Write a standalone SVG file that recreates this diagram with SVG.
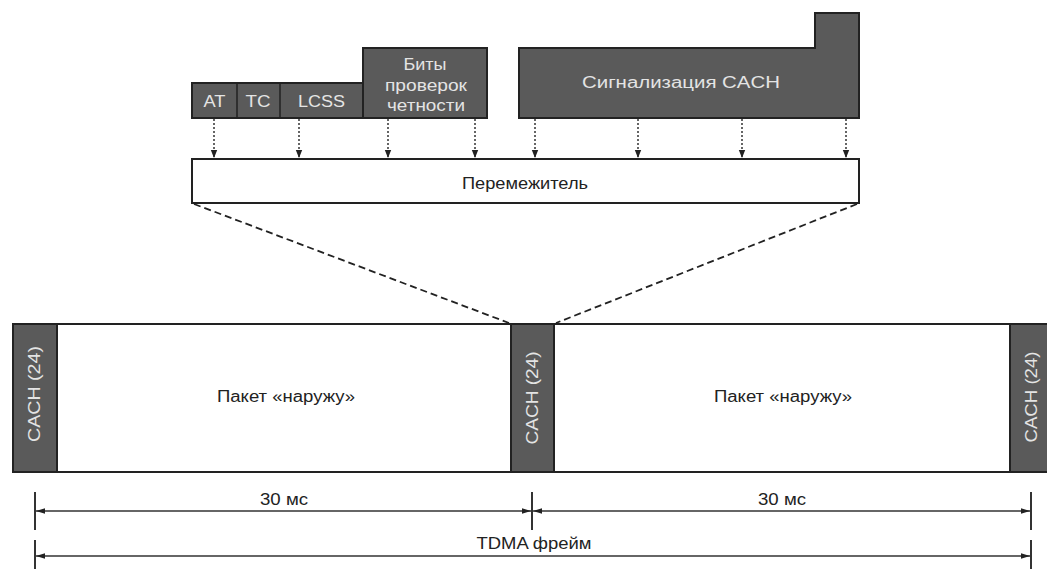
<svg xmlns="http://www.w3.org/2000/svg" width="1047" height="569" viewBox="0 0 1047 569">
<defs>
<style>
.dark{fill:#5a5a5a;stroke:#222;stroke-width:2}
.light{fill:#fff;stroke:#222;stroke-width:2}
.lt{font-family:"Liberation Sans",Arial,sans-serif;font-size:16px;fill:#e4e4e4;text-anchor:middle}
.dt{font-family:"Liberation Sans",Arial,sans-serif;font-size:16px;fill:#222;text-anchor:middle}
.dot{stroke:#333;stroke-width:1.5;stroke-dasharray:2 2;fill:none}
.dash{stroke:#222;stroke-width:1.8;stroke-dasharray:7 4;fill:none}
.dim{stroke:#333;stroke-width:1.5;fill:none}
.tick{stroke:#333;stroke-width:2;fill:none}
</style>
<marker id="ah" viewBox="0 0 10 10" refX="10" refY="5" markerWidth="8" markerHeight="8" markerUnits="userSpaceOnUse" orient="auto">
<path d="M0,1 L10,5 L0,9 Z" fill="#222"/>
</marker>
<marker id="ad" viewBox="0 0 10 10" refX="10" refY="5" markerWidth="9" markerHeight="9" markerUnits="userSpaceOnUse" orient="auto-start-reverse">
<path d="M0,2 L10,5 L0,8 Z" fill="#222"/>
</marker>
</defs>

<g id="bits-left">
<rect class="dark" x="192" y="83" width="171" height="35"/>
<line x1="237" y1="83" x2="237" y2="118" stroke="#222" stroke-width="1.5"/>
<line x1="280" y1="83" x2="280" y2="118" stroke="#222" stroke-width="1.5"/>
<text class="lt" x="214.5" y="107" textLength="22" lengthAdjust="spacingAndGlyphs">AT</text>
<text class="lt" x="258" y="107" textLength="25" lengthAdjust="spacingAndGlyphs">TC</text>
<text class="lt" x="321.5" y="107" textLength="47" lengthAdjust="spacingAndGlyphs">LCSS</text>
</g>

<g id="parity">
<rect class="dark" x="363" y="48" width="124" height="70"/>
<text class="lt" x="425" y="70" textLength="43" lengthAdjust="spacingAndGlyphs">Биты</text>
<text class="lt" x="426" y="91" textLength="82" lengthAdjust="spacingAndGlyphs">проверок</text>
<text class="lt" x="426" y="111" textLength="78" lengthAdjust="spacingAndGlyphs">четности</text>
</g>

<g id="cach-signal">
<path class="dark" d="M519,48 L815,48 L815,13 L859,13 L859,118 L519,118 Z"/>
<text class="lt" x="681" y="88" textLength="198" lengthAdjust="spacingAndGlyphs">Сигнализация CACH</text>
</g>

<g id="interleaver">
<rect class="light" x="192" y="159" width="667" height="44"/>
<text class="dt" x="525" y="189" textLength="126" lengthAdjust="spacingAndGlyphs">Перемежитель</text>
</g>

<g id="frame">
<rect class="light" x="13" y="324" width="1040" height="148"/>
<rect class="dark" x="13" y="324" width="44" height="148"/>
<rect class="dark" x="511" y="324" width="43" height="148"/>
<rect class="dark" x="1010" y="324" width="43" height="148"/>
<text class="lt" transform="translate(40,394) rotate(-90)" textLength="96" lengthAdjust="spacingAndGlyphs">CACH (24)</text>
<text class="lt" transform="translate(538,398) rotate(-90)" textLength="93" lengthAdjust="spacingAndGlyphs">CACH (24)</text>
<text class="lt" transform="translate(1037,397) rotate(-90)" textLength="91" lengthAdjust="spacingAndGlyphs">CACH (24)</text>
<text class="dt" x="286" y="402" textLength="138" lengthAdjust="spacingAndGlyphs">Пакет «наружу»</text>
<text class="dt" x="783" y="402" textLength="138" lengthAdjust="spacingAndGlyphs">Пакет «наружу»</text>
</g>

<g id="connectors">
<line class="dot" x1="214" y1="119" x2="214" y2="158" marker-end="url(#ah)"/>
<line class="dot" x1="299" y1="119" x2="299" y2="158" marker-end="url(#ah)"/>
<line class="dot" x1="388" y1="119" x2="388" y2="158" marker-end="url(#ah)"/>
<line class="dot" x1="475" y1="119" x2="475" y2="158" marker-end="url(#ah)"/>
<line class="dot" x1="535" y1="119" x2="535" y2="158" marker-end="url(#ah)"/>
<line class="dot" x1="638" y1="119" x2="638" y2="158" marker-end="url(#ah)"/>
<line class="dot" x1="742" y1="119" x2="742" y2="158" marker-end="url(#ah)"/>
<line class="dot" x1="846" y1="119" x2="846" y2="158" marker-end="url(#ah)"/>
<line class="dash" x1="194" y1="204" x2="509" y2="323"/>
<line class="dash" x1="857" y1="204" x2="556" y2="323"/>
</g>

<g id="dimensions">
<line class="tick" x1="35" y1="492" x2="35" y2="530"/>
<line class="tick" x1="532" y1="492" x2="532" y2="530"/>
<line class="tick" x1="1031" y1="492" x2="1031" y2="530"/>
<line class="tick" x1="35" y1="540" x2="35" y2="569"/>
<line class="tick" x1="1031" y1="540" x2="1031" y2="569"/>
<line class="dim" x1="36" y1="511" x2="531" y2="511" marker-start="url(#ad)" marker-end="url(#ad)"/>
<line class="dim" x1="533" y1="511" x2="1030" y2="511" marker-start="url(#ad)" marker-end="url(#ad)"/>
<line class="dim" x1="36" y1="556" x2="1030" y2="556" marker-start="url(#ad)" marker-end="url(#ad)"/>
<text class="dt" x="284" y="505" textLength="48" lengthAdjust="spacingAndGlyphs">30 мс</text>
<text class="dt" x="782" y="505" textLength="48" lengthAdjust="spacingAndGlyphs">30 мс</text>
<text class="dt" x="534" y="549" textLength="115" lengthAdjust="spacingAndGlyphs">TDMA фрейм</text>
</g>
</svg>
